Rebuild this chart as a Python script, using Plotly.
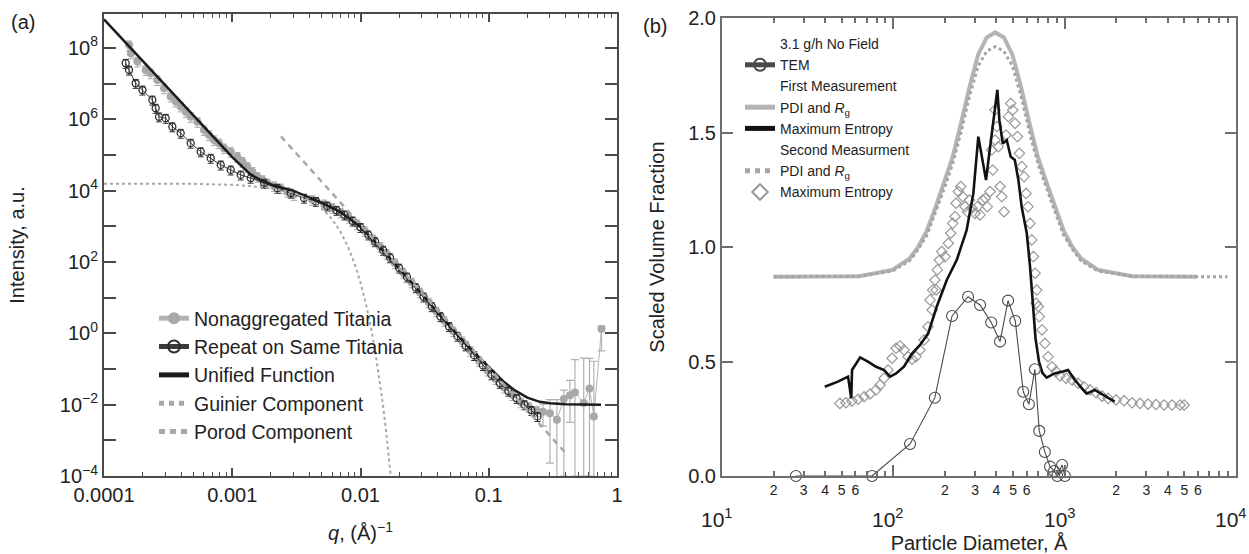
import math
import plotly.graph_objects as go

FONT = "Liberation Sans, Arial, sans-serif"
INK = "#222222"

# ---------------- Panel (a): SAXS intensity ----------------
q_unified = [1e-4, 2e-4, 5e-4, 1e-3, 1.4e-3, 1.7e-3, 2.2e-3, 3e-3, 4e-3, 5e-3, 7e-3, 1e-2,
             1.4e-2, 2e-2, 3e-2, 4e-2, 6e-2, 8e-2, 0.1, 0.13, 0.16, 0.2, 0.25, 0.3, 0.4, 0.5, 0.75]
I_unified = [6.31e8, 4.27e7, 1.20e6, 8.71e4, 2.75e4, 1.91e4, 1.32e4, 9.77e3, 6.31e3, 4.57e3, 2.51e3, 955,
             269, 66.1, 12.6, 3.80, 0.741, 0.251, 0.112, 0.0447, 0.0251, 0.0158, 0.0120, 0.0110, 0.0102, 0.0100, 0.0100]

q_guinier = [1e-4, 5e-4, 1e-3, 2e-3, 3e-3, 4e-3, 5e-3, 6e-3, 7e-3, 8e-3, 9e-3, 0.010, 0.011, 0.012,
             0.013, 0.014, 0.015, 0.016, 0.017, 0.0175]
I_guinier = [1.55e4, 1.55e4, 1.45e4, 1.20e4, 8.7e3, 5.6e3, 3.16e3, 1.58e3, 692, 263, 89, 26.3, 6.9, 1.62,
             0.331, 0.0589, 0.00933, 0.00129, 1.58e-4, 5.6e-5]

q_porod = [0.0024, 0.004, 0.007, 0.01, 0.02, 0.05, 0.1, 0.2, 0.3, 0.4]
I_porod = [3.3e5, 4.27e4, 4.57e3, 1.10e3, 69, 1.75, 0.110, 6.9e-3, 1.35e-3, 4.3e-4]

q_nonagg = [1.567e-4, 1.622e-4, 1.82e-4, 2.113e-4, 2.31e-4, 2.606e-4, 2.94e-4, 3.311e-4, 3.62e-4, 3.963e-4,
            4.34e-4, 4.742e-4, 5.35e-4, 6.026e-4, 6.59e-4, 7.211e-4, 7.89e-4, 8.630e-4, 9.73e-4, 1.096e-3,
            1.20e-3, 1.312e-3, 1.435e-3, 1.570e-3, 1.72e-3, 1.875e-3, 2.12e-3, 2.388e-3, 2.69e-3, 3.027e-3,
            0.0042, 0.0052, 0.006, 0.0070, 0.0081, 0.0094, 0.0108, 0.0125, 0.0142, 0.016, 0.0185, 0.0215,
            0.025, 0.029, 0.034, 0.039, 0.045, 0.053, 0.062, 0.072, 0.084, 0.098, 0.113, 0.132, 0.153,
            0.178, 0.205, 0.235]
I_nonagg = [1.20e8, 7.08e7, 4.17e7, 2.40e7, 1.95e7, 1.26e7, 7.41e6, 4.37e6, 3.16e6, 2.29e6,
            1.62e6, 1.17e6, 8.51e5, 5.01e5, 3.63e5, 2.63e5, 2.14e5, 1.55e5, 1.23e5, 8.91e4,
            6.46e4, 4.68e4, 3.39e4, 2.45e4, 2.00e4, 1.62e4, 1.35e4, 1.17e4, 9.33e3, 7.59e3,
            5.50e3, 4.17e3, 3.31e3, 2.45e3, 1.74e3, 1.15e3, 741, 437, 269, 170, 93.3, 50.1,
            26.9, 14.1, 7.41, 4.17, 2.24, 1.15, 0.603, 0.324, 0.170, 0.0912, 0.0525, 0.0302, 0.0186,
            0.0117, 0.00871, 0.00661]

q_tail = [0.235, 0.265, 0.30, 0.34, 0.385, 0.43, 0.47, 0.55, 0.61, 0.66, 0.757]
I_tail = [0.00661, 0.00631, 0.00575, 0.00380, 0.0145, 0.0182, 0.0219, 0.0112, 0.0282, 0.00468, 1.32]
err_tail_plus = [0.002, 0.004, 0.008, 0.010, 0.011, 0.03, 0.16, 0.19, 0.17, 0.16, 0.3]
err_tail_minus = [0.002, 0.0038, 0.00552, 0.00379, 0.0144, 0.0150, 0.0218, 0.0111, 0.0281, 0.00467, 1.0]

q_repeat = [1.476e-4, 1.567e-4, 1.766e-4, 1.995e-4, 2.382e-4, 2.529e-4, 2.685e-4, 3.027e-4, 3.412e-4,
            3.963e-4, 4.742e-4, 5.675e-4, 6.792e-4, 8.128e-4, 9.727e-4, 1.164e-3, 1.393e-3, 1.770e-3,
            2.249e-3, 2.858e-3, 3.631e-3,
            0.0045, 0.0055, 0.0065, 0.0075, 0.0087, 0.010, 0.0115, 0.013, 0.015, 0.017, 0.020, 0.023,
            0.027, 0.031, 0.036, 0.042, 0.049, 0.057, 0.066, 0.077, 0.090, 0.105, 0.122, 0.142, 0.165,
            0.19, 0.215, 0.24]
I_repeat = [3.72e7, 2.40e7, 1.02e7, 6.61e6, 3.47e6, 2.04e6, 1.17e6, 1.07e6, 6.17e5,
            4.07e5, 2.14e5, 1.23e5, 8.13e4, 5.25e4, 3.80e4, 2.75e4, 2.24e4, 1.62e4,
            1.17e4, 8.51e3, 6.17e3,
            5.01e3, 3.72e3, 2.82e3, 2.09e3, 1.41e3, 933, 575, 372, 214, 132, 67.6, 38.0,
            19.1, 10.5, 5.62, 2.95, 1.55, 0.832, 0.447, 0.240, 0.126, 0.0692, 0.0398, 0.0240, 0.0151,
            0.0100, 0.00692, 0.00468]

a_xtick_vals = [1e-4, 1e-3, 1e-2, 1e-1, 1]
a_xtick_text = ["0.0001", "0.001", "0.01", "0.1", "1"]
a_ytick_vals = [1e-4, 1e-3, 1e-2, 1e-1, 1, 10, 1e2, 1e3, 1e4, 1e5, 1e6, 1e7, 1e8]
a_ytick_text = ["10<sup>−4</sup>", "", "10<sup>−2</sup>", "", "10<sup>0</sup>", "", "10<sup>2</sup>", "",
                "10<sup>4</sup>", "", "10<sup>6</sup>", "", "10<sup>8</sup>"]

# ---------------- Panel (b): size distributions ----------------
D_pdi1 = [20, 63.1, 98.9, 124.5, 139.6, 156.7, 175.8, 197.2, 221.3, 248.3, 278.6, 312.6, 350.8, 393.6,
          441.6, 495.5, 555.9, 623.7, 699.8, 785.2, 881.0, 988.6, 1109, 1245, 1567, 2483, 5888]
V_pdi1 = [0.87, 0.872, 0.90, 0.95, 1.00, 1.07, 1.17, 1.28, 1.39, 1.54, 1.70, 1.84, 1.915, 1.937,
          1.915, 1.84, 1.70, 1.54, 1.39, 1.28, 1.17, 1.07, 1.00, 0.95, 0.90, 0.872, 0.87]

D_pdi2 = [20, 63.1, 98.9, 124.5, 139.6, 156.7, 175.8, 197.2, 221.3, 248.3, 278.6, 312.6, 350.8, 393.6,
          441.6, 495.5, 555.9, 623.7, 699.8, 785.2, 881.0, 988.6, 1109, 1245, 1567, 2483, 5888, 8913]
V_pdi2 = [0.87, 0.872, 0.895, 0.94, 0.99, 1.05, 1.15, 1.25, 1.36, 1.50, 1.66, 1.79, 1.855, 1.875,
          1.855, 1.79, 1.66, 1.50, 1.36, 1.25, 1.15, 1.05, 0.99, 0.94, 0.895, 0.872, 0.87, 0.87]

D_me1 = [39.8, 47.5, 54.4, 56.8, 57.4, 64.0, 71.1, 79.3, 88.3, 95.7, 103.8, 115.3, 128.5, 143.2, 159.6,
         179.1, 205.1, 234.4, 267.9, 293.1, 313.3, 328.1, 347.5, 363.1, 383.7, 404.6, 415.9, 435.5,
         459.2, 484.2, 511.7, 537.0, 561.0, 601.2, 628.1, 656.1, 676.1, 707.9, 741.3, 785.2, 871.0,
         977.2, 1047.1, 1142.9, 1342.8, 1496.2, 1667.2, 1958.8]
V_me1 = [0.390, 0.412, 0.434, 0.339, 0.463, 0.518, 0.499, 0.477, 0.463, 0.434, 0.448, 0.477, 0.535,
         0.572, 0.622, 0.739, 0.856, 0.943, 1.074, 1.234, 1.482, 1.390, 1.292, 1.409, 1.540, 1.686,
         1.554, 1.452, 1.467, 1.394, 1.380, 1.292, 1.176, 1.059, 0.913, 0.730, 0.600, 0.500, 0.450,
         0.430, 0.448, 0.456, 0.463, 0.420, 0.360, 0.376, 0.354, 0.325]

D_me2 = [48.8, 52.9, 57.4, 62.2, 67.5, 73.1, 79.3, 83.6, 88.2, 93.1, 98.3, 103.7, 109.4, 115.5, 121.9,
         128.6, 135.7, 143.2, 151.1, 159.4, 168.3, 177.6,
         163.8, 169.7, 175.1, 180.7, 185.6, 191.6, 200.4, 209.6, 216.2, 222.1, 229.2, 232.3, 239.8,
         247.4, 254.1, 262.2, 270.5, 277.9, 288.0, 299.9, 309.5, 320.7, 332.4, 344.5, 353.9, 366.8,
         380.2, 375.1, 392.3, 392.3, 401.2, 410.3, 419.6, 429.1, 442.8, 454.9, 469.4, 484.3, 497.6,
         513.4, 529.8, 544.3, 561.7, 579.5, 595.3, 611.6, 628.3, 642.5, 657.0, 671.9, 687.1, 702.6,
         680.9, 710.9, 738.2, 766.6, 800.3, 844.4, 891.1, 940.4, 1019, 1105, 1197, 1298, 1407, 1525,
         1654, 1792, 1996, 2222, 2474, 2755, 3069, 3417, 3805, 4236, 4717, 4978]
V_me2 = [0.317, 0.320, 0.328, 0.335, 0.346, 0.358, 0.376, 0.397, 0.427, 0.463, 0.514, 0.558, 0.568,
         0.550, 0.521, 0.510, 0.521, 0.550, 0.594, 0.652, 0.725, 0.812,
         0.769, 0.812, 0.856, 0.900, 0.943, 0.980, 0.958, 1.016, 1.060, 1.103, 1.133, 1.191, 1.242,
         1.264, 1.220, 1.176, 1.154, 1.205, 1.169, 1.147, 1.176, 1.140, 1.205, 1.213, 1.176, 1.242,
         1.336, 1.424, 1.467, 1.598, 1.526, 1.438, 1.264, 1.220, 1.154, 1.489, 1.569, 1.627, 1.598,
         1.540, 1.482, 1.409, 1.351, 1.307, 1.234, 1.176, 1.103, 1.031, 0.958, 0.885, 0.812, 0.740,
         0.754, 0.696, 0.638, 0.579, 0.521, 0.477, 0.456, 0.437, 0.427, 0.419, 0.405, 0.390, 0.376,
         0.364, 0.349, 0.339, 0.332, 0.329, 0.320, 0.317, 0.314, 0.312, 0.310, 0.310, 0.310, 0.310]

D_tem = [27.0, 75.1, 125.2, 174.7, 220.2, 273.0, 320.7, 372.8, 419.6, 467.3, 514.7, 573.3, 618.0,
         669.9, 710.8, 766.3, 821.7, 867, 905, 966, 1003]
V_tem = [0.0, 0.0, 0.140, 0.342, 0.699, 0.783, 0.747, 0.670, 0.587, 0.766, 0.677, 0.368, 0.313,
         0.466, 0.197, 0.105, 0.041, 0.022, 0.0, 0.048, 0.0]

b_minor_vals = [20, 30, 40, 50, 60, 200, 300, 400, 500, 600, 2000, 3000, 4000, 5000, 6000]
b_minor_text = ["2", "3", "4", "5", "6", "2", "3", "4", "5", "6", "2", "3", "4", "5", "6"]
b_unlabeled_vals = [70, 80, 90, 700, 800, 900, 7000, 8000, 9000]
b_decade_vals = [10, 100, 1000, 10000]
b_decade_text = ["10<sup>1</sup>", "10<sup>2</sup>", "10<sup>3</sup>", "10<sup>4</sup>"]
b_ytick_vals = [0, 0.5, 1.0, 1.5, 2.0]
b_ytick_text = ["0.0", "0.5", "1.0", "1.5", "2.0"]

fig = go.Figure()

# ---- panel (a) traces ----
fig.add_trace(go.Scatter(
    x=q_nonagg, y=I_nonagg, mode="lines+markers", name="Nonaggregated Titania",
    line=dict(color="#b3b3b3", width=1),
    marker=dict(symbol="circle", size=8, color="#a8a8a8"),
    error_y=dict(type="percent", value=30, color="#a8a8a8", thickness=1, width=3),
    xaxis="x", yaxis="y", legend="legend"))
fig.add_trace(go.Scatter(
    x=q_tail, y=I_tail, mode="lines+markers", showlegend=False,
    line=dict(color="#b3b3b3", width=1),
    marker=dict(symbol="circle", size=8, color="#a8a8a8"),
    error_y=dict(type="data", array=err_tail_plus, arrayminus=err_tail_minus,
                 color="#b0b0b0", thickness=1.2, width=4),
    xaxis="x", yaxis="y"))
fig.add_trace(go.Scatter(
    x=q_repeat, y=I_repeat, mode="lines+markers", name="Repeat on Same Titania",
    line=dict(color="#3a3a3a", width=1),
    marker=dict(symbol="circle-open", size=7, color="#2e2e2e", line=dict(width=1.3)),
    error_y=dict(type="percent", value=28, color="#2e2e2e", thickness=1, width=3),
    xaxis="x", yaxis="y", legend="legend"))
fig.add_trace(go.Scatter(
    x=q_unified, y=I_unified, mode="lines", name="Unified Function",
    line=dict(color="#1c1c1c", width=2.5), xaxis="x", yaxis="y", legend="legend"))
fig.add_trace(go.Scatter(
    x=q_guinier, y=I_guinier, mode="lines", name="Guinier Component",
    line=dict(color="#a8a8a8", width=2, dash="dot"), xaxis="x", yaxis="y", legend="legend"))
fig.add_trace(go.Scatter(
    x=q_porod, y=I_porod, mode="lines", name="Porod Component",
    line=dict(color="#a8a8a8", width=2.5, dash="6px,5px"), xaxis="x", yaxis="y", legend="legend"))

# ---- panel (b) traces ----
def header(name, rank):
    return go.Scatter(x=[None], y=[None], mode="lines", name=name, legendrank=rank,
                      line=dict(width=0, color="rgba(0,0,0,0)"),
                      xaxis="x2", yaxis="y2", legend="legend2")

fig.add_trace(go.Scatter(
    x=D_pdi1, y=V_pdi1, mode="lines", name="PDI and <i>R</i><sub>g</sub>", legendrank=4,
    line=dict(color="#b4b4b4", width=4), xaxis="x2", yaxis="y2", legend="legend2"))
fig.add_trace(go.Scatter(
    x=D_pdi2, y=V_pdi2, mode="lines", name="PDI and <i>R</i><sub>g</sub> ", legendrank=7,
    line=dict(color="#a4a4a4", width=3, dash="dot"), xaxis="x2", yaxis="y2", legend="legend2"))
fig.add_trace(go.Scatter(
    x=D_me2, y=V_me2, mode="markers", name="Maximum Entropy ", legendrank=8,
    marker=dict(symbol="diamond-open", size=8, color="#999999", line=dict(width=1.2)),
    xaxis="x2", yaxis="y2", legend="legend2"))
fig.add_trace(go.Scatter(
    x=D_me1, y=V_me1, mode="lines", name="Maximum Entropy", legendrank=5,
    line=dict(color="#111111", width=2.6), xaxis="x2", yaxis="y2", legend="legend2"))
fig.add_trace(go.Scatter(
    x=D_tem, y=V_tem, mode="lines+markers", name="TEM", legendrank=2, cliponaxis=False,
    line=dict(color="#4a4a4a", width=1.1),
    marker=dict(symbol="circle-open", size=11, color="#4a4a4a", line=dict(width=1.1)),
    xaxis="x2", yaxis="y2", legend="legend2"))
fig.add_trace(header("3.1 g/h No Field", 1))
fig.add_trace(header("First Measurement", 3))
fig.add_trace(header("Second Measurment", 6))
# empty carrier so the decade-tick axis is drawn
fig.add_trace(go.Scatter(x=[None], y=[None], mode="lines", showlegend=False, hoverinfo="skip",
                         xaxis="x3", yaxis="y2"))

FRAME_A = "#4a4a4a"
FRAME_B = "#6e6e6e"

# decade labels of panel (b), placed through the log axis x2 (annotation x is log10 on log axes)
decade_annotations = [
    dict(text=t, x=math.log10(v), xref="x2", y=(476 - 518) / 462, yref="paper",
         xanchor="center", yanchor="middle", xshift=-5, showarrow=False,
         font=dict(size=21, color=INK))
    for v, t in zip(b_decade_vals, b_decade_text)
]

fig.update_layout(
    width=1249, height=554,
    margin=dict(l=0, r=0, t=14, b=78),
    paper_bgcolor="white", plot_bgcolor="white",
    font=dict(family=FONT, size=20, color=INK),
    showlegend=True,
    xaxis=dict(
        domain=[104 / 1249, 617 / 1249], anchor="y", type="log", range=[-4, 0],
        tickmode="array", tickvals=a_xtick_vals, ticktext=a_xtick_text,
        ticks="inside", ticklen=8, tickwidth=1.5, tickcolor=FRAME_A,
        minor=dict(ticks="inside", ticklen=4, tickwidth=1.2, tickcolor=FRAME_A, dtick="D1", showgrid=False),
        showline=True, linecolor=FRAME_A, linewidth=2, mirror="ticks",
        showgrid=False, zeroline=False, automargin=False, ticklabelstandoff=0,
        ticklabeloverflow="allow",
        tickfont=dict(size=20),
        title=dict(text="<i>q</i>, (Å)<sup>−1</sup>", font=dict(size=20), standoff=21)),
    yaxis=dict(
        domain=[0, 1], anchor="x", type="log", range=[-4, 8.95],
        tickmode="array", tickvals=a_ytick_vals, ticktext=a_ytick_text,
        ticks="inside", ticklen=12, tickwidth=1.5, tickcolor=FRAME_A,
        showline=True, linecolor=FRAME_A, linewidth=2, mirror="ticks",
        showgrid=False, zeroline=False, automargin=False,
        tickfont=dict(size=20),
        title=dict(text="Intensity, a.u.", font=dict(size=20), standoff=30)),
    xaxis2=dict(
        domain=[722 / 1249, 1236 / 1249], anchor="y2", type="log", range=[1, 4],
        tickmode="array", tickvals=b_minor_vals, ticktext=b_minor_text,
        ticks="inside", ticklen=5, tickwidth=1.5, tickcolor=FRAME_B,
        minor=dict(tickmode="array", tickvals=b_unlabeled_vals, ticks="inside", ticklen=5,
                   tickwidth=1.5, tickcolor=FRAME_B, showgrid=False),
        showline=True, linecolor=FRAME_B, linewidth=2, mirror="ticks",
        showgrid=False, zeroline=False, automargin=False, ticklabelstandoff=0,
        tickfont=dict(size=14),
        title=dict(text="Particle Diameter, Å", font=dict(size=20), standoff=40)),
    xaxis3=dict(
        overlaying="x2", anchor="y2", type="log", range=[1, 4], side="bottom",
        tickmode="array", tickvals=b_decade_vals, showticklabels=False,
        ticks="inside", ticklen=11, tickwidth=1.5, tickcolor=FRAME_B,
        showline=False, mirror="ticks", showgrid=False, zeroline=False, automargin=False),
    yaxis2=dict(
        domain=[0, (476 - 18) / 462], anchor="x2", range=[0, 2.0],
        tickmode="array", tickvals=b_ytick_vals, ticktext=b_ytick_text,
        ticks="inside", ticklen=11, tickwidth=1.5, tickcolor=FRAME_B,
        showline=True, linecolor=FRAME_B, linewidth=2, mirror="ticks",
        showgrid=False, zeroline=False, automargin=False,
        tickfont=dict(size=20),
        title=dict(text="Scaled Volume Fraction", font=dict(size=20), standoff=18)),
    legend=dict(
        x=154 / 1249, y=(476 - 299) / 462, xanchor="left", yanchor="top",
        bgcolor="rgba(0,0,0,0)", borderwidth=0, font=dict(size=19.5, color=INK),
        tracegroupgap=0, itemsizing="constant"),
    legend2=dict(
        x=740 / 1249, y=(476 - 28) / 462, xanchor="left", yanchor="top",
        bgcolor="rgba(0,0,0,0)", borderwidth=0, font=dict(size=14, color=INK),
        tracegroupgap=0, itemsizing="constant", traceorder="normal"),
    annotations=[
        dict(text="(a)", x=23 / 1249, y=(476 - 22) / 462, xref="paper", yref="paper",
             xanchor="center", yanchor="middle",
             showarrow=False, font=dict(size=20, color=INK)),
        dict(text="(b)", x=655 / 1249, y=(476 - 26) / 462, xref="paper", yref="paper",
             xanchor="center", yanchor="middle",
             showarrow=False, font=dict(size=20, color=INK)),
    ] + decade_annotations,
)

# the page's default 8px body margin would offset the 1249x554 figure; remove it
fig.write_html("out.html", config={"displayModeBar": False},
               post_script="document.body.style.margin='0px';")
